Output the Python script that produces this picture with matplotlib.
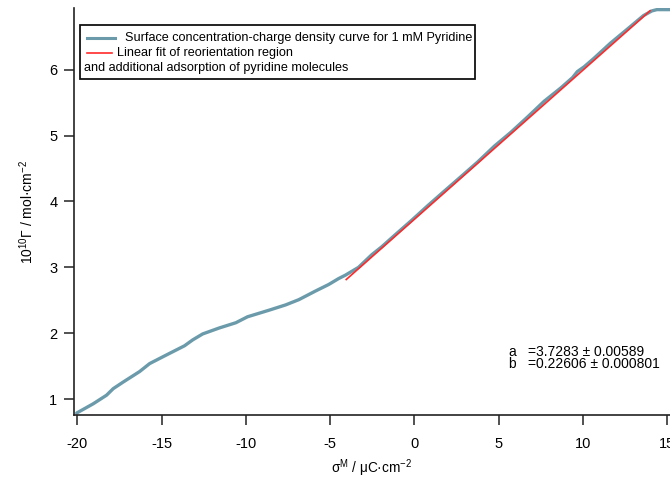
import numpy as np
import matplotlib
matplotlib.use("Agg")
import matplotlib.pyplot as plt
from matplotlib.patches import Rectangle
from matplotlib.lines import Line2D

plt.rcParams['font.family'] = ['Liberation Sans', 'DejaVu Sans']
plt.rcParams['mathtext.default'] = 'regular'

# surface concentration vs. charge density, 1 mM pyridine
sigma = [-20.04, -19.06, -18.27, -17.87, -17.28, -16.3, -15.71, -14.72, -13.64, -13.15,
         -12.56, -11.58, -10.59, -9.9, -8.62, -7.64, -6.85, -5.87, -5.08, -4.49,
         -4.1, -3.31, -2.53, -1.94, -1.15, -0.17, 0.82, 1.8, 2.79, 3.77,
         4.76, 5.74, 6.72, 7.71, 8.69, 9.4, 9.68, 10.07, 10.66, 11.64,
         12.63, 13.61, 14.1, 14.4, 15.2]
gamma = [0.79, 0.93, 1.06, 1.16, 1.26, 1.42, 1.54, 1.67, 1.81, 1.90,
         1.99, 2.08, 2.16, 2.25, 2.35, 2.43, 2.51, 2.64, 2.74, 2.83,
         2.88, 3.00, 3.19, 3.31, 3.49, 3.71, 3.94, 4.16, 4.38, 4.60,
         4.84, 5.05, 5.28, 5.52, 5.72, 5.88, 5.97, 6.04, 6.17, 6.40,
         6.61, 6.82, 6.89, 6.91, 6.91]

# linear fit over the reorientation region
fit_a = 3.7283
fit_a_err = 0.00589
fit_b = 0.22606
fit_b_err = 0.000801
fit_range = [-4.04, 14.0]

xticks = [-20, -15, -10, -5, 0, 5, 10, 15]
yticks = [1, 2, 3, 4, 5, 6]

W, H = 670, 478
fig = plt.figure(figsize=(W / 100, H / 100), dpi=100)

def fx(px):
    return px / W

def fy(py):
    return 1 - py / H

ax = fig.add_axes([fx(74), fy(415), fx(670) - fx(74), fy(8.3) - fy(415)])

blue = '#6b9bab'
red = '#ff2a2a'
ax.plot(sigma, gamma, color=blue, lw=2.4, solid_capstyle='round', zorder=2)
xf = np.array(fit_range)
ax.plot(xf, fit_a + fit_b * xf, color=red, lw=1.2, zorder=3)

ax.set_xlim(-20.2, 15.18)
ax.set_ylim(0.76, 6.93)
ax.set_xticks(xticks)
ax.set_yticks(yticks)
ax.set_xticklabels([str(t) for t in xticks])
ax.set_yticklabels([str(t) for t in yticks])

for s in ['top', 'right']:
    ax.spines[s].set_visible(False)
for s in ['left', 'bottom']:
    ax.spines[s].set_linewidth(1.2)
    ax.spines[s].set_color('#222222')
ax.tick_params(direction='out', length=7.5, width=1.1, color='#222222', labelsize=10.5)
ax.tick_params(axis='x', pad=8)
ax.tick_params(axis='y', pad=4.5)

ax.set_xlabel(r'σ$^{M}$ / μC·cm$^{-2}$', fontsize=9.8, va='center')
ax.xaxis.set_label_coords(0.5, (415 - 468) / (415 - 8.3))
ax.set_ylabel(r'10$^{10}$Γ / mol·cm$^{-2}$', fontsize=10, va='center')
ax.yaxis.set_label_coords((27 - 74) / (670 - 74), 0.5)

# fit coefficients
for row_y, name, val, err in [(351.5, 'a', fit_a, fit_a_err), (364.5, 'b', fit_b, fit_b_err)]:
    fig.text(fx(508), fy(row_y), name, fontsize=10, va='center')
    fig.text(fx(528), fy(row_y), f'={val} ± {err}', fontsize=10, va='center')

# legend box
fig.patches.append(Rectangle((fx(80), fy(79)), fx(475) - fx(80), fy(25) - fy(79),
                             transform=fig.transFigure, fill=True, facecolor='white',
                             edgecolor='#111111', lw=1.3, zorder=5))
fig.lines.append(Line2D([fx(87), fx(115)], [fy(38), fy(38)], transform=fig.transFigure,
                        color=blue, lw=2.2, zorder=6))
fig.lines.append(Line2D([fx(87), fx(112)], [fy(53), fy(53)], transform=fig.transFigure,
                        color=red, lw=1.2, zorder=6))
fig.text(fx(125), fy(38), 'Surface concentration-charge density curve for 1 mM Pyridine',
         fontsize=9.1, va='center', zorder=7)
fig.text(fx(117), fy(53), 'Linear fit of reorientation region', fontsize=9.1,
         va='center', zorder=7)
fig.text(fx(84), fy(68), 'and additional adsorption of pyridine molecules', fontsize=9.1,
         va='center', zorder=7)

fig.savefig('out.png', dpi=100)
